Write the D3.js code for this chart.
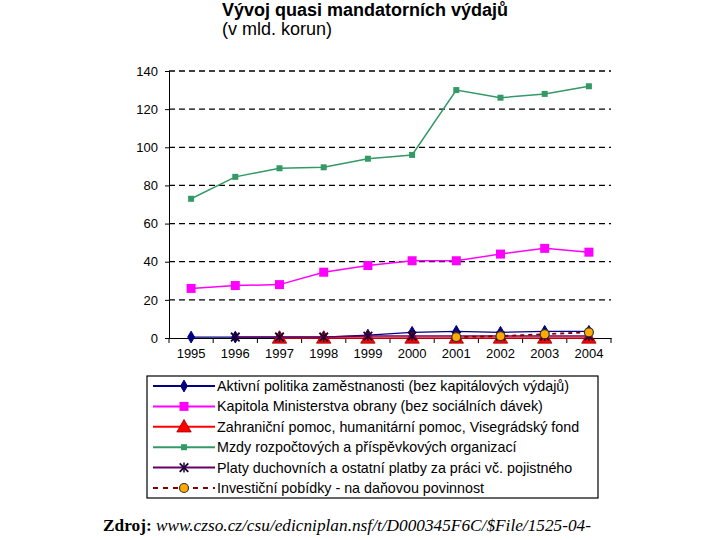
<!DOCTYPE html>
<html>
<head>
<meta charset="utf-8">
<script src="https://cdn.jsdelivr.net/npm/d3@7"></script>
<style>
  body { margin: 0; background: #fff; }
  svg { display: block; }
</style>
</head>
<body>
<script>
// data
var years = ["1995", "1996", "1997", "1998", "1999", "2000", "2001", "2002", "2003", "2004"];
var yTicks = [0, 20, 40, 60, 80, 100, 120, 140];

var aktivni = [0.5, 0.5, 0.5, 0.5, 1.5, 3, 3.5, 3, 3.5, 3.5];
var obrana = [26, 27.5, 28, 34.5, 38, 40.5, 40.5, 44, 47, 45];
var zahranicni = [null, null, 0, 0, 0, 0, 0, 0, 0, 0];
var mzdy = [73, 84.5, 89, 89.5, 94, 96, 130, 126, 128, 132];
var platy = [null, 0.5, 0.5, 0.5, 1, 1, 1, 1, 1, 1];
var pobidky = [null, null, null, null, null, null, 0.5, 1, 2, 3];

var seriesNames = [
  "Aktivní politika zaměstnanosti (bez kapitálových výdajů)",
  "Kapitola Ministerstva obrany (bez sociálních dávek)",
  "Zahraniční pomoc, humanitární pomoc, Visegrádský fond",
  "Mzdy rozpočtových a příspěvkových organizací",
  "Platy duchovních a ostatní platby za práci vč. pojistného",
  "Investiční pobídky - na daňovou povinnost"
];

var series = [
  { name: seriesNames[0], values: aktivni, color: "#000080", marker: "diamond", width: 1.2 },
  { name: seriesNames[1], values: obrana, color: "#ff00ff", marker: "square", width: 1.5 },
  { name: seriesNames[2], values: zahranicni, color: "#ff0000", marker: "triangle", width: 1.5 },
  { name: seriesNames[3], values: mzdy, color: "#339966", marker: "smallsquare", width: 1.5 },
  { name: seriesNames[4], values: platy, color: "#660066", marker: "star", width: 1.5 },
  { name: seriesNames[5], values: pobidky, color: "#800000", marker: "circle", width: 1.8, dash: "4,4" }
];

var font = "Liberation Sans, Arial, sans-serif";

var svg = d3.select("body").append("svg")
  .attr("width", 720)
  .attr("height", 540);

// title
svg.append("text")
  .attr("x", 222).attr("y", 16)
  .attr("font-family", font)
  .attr("font-size", 18).attr("font-weight", "bold")
  .text("Vývoj quasi mandatorních výdajů");
svg.append("text")
  .attr("x", 222).attr("y", 35)
  .attr("font-family", font)
  .attr("font-size", 18)
  .text("(v mld. korun)");

// scales
var plotLeft = 169, plotRight = 611, plotTop = 71, plotBottom = 338;
var x = d3.scaleBand().domain(years).range([plotLeft, plotRight]);
var y = d3.scaleLinear().domain([0, 140]).range([plotBottom, plotTop]);

// grid
svg.append("g").selectAll("line")
  .data(yTicks.filter(function(d) { return d > 0; }))
  .enter().append("line")
  .attr("x1", plotLeft).attr("x2", plotRight)
  .attr("y1", function(d) { return y(d); })
  .attr("y2", function(d) { return y(d); })
  .attr("stroke", "#000").attr("stroke-width", 1.3)
  .attr("stroke-dasharray", "6,4");

// y axis
var yAxis = svg.append("g")
  .attr("transform", "translate(" + plotLeft + ",0)")
  .call(d3.axisLeft(y).tickValues(yTicks).tickSize(4).tickPadding(7));
yAxis.select(".domain").attr("stroke", "#000");
yAxis.selectAll("text")
  .attr("font-family", font)
  .attr("font-size", 13).attr("fill", "#000");

// x axis
var xAxis = svg.append("g")
  .attr("transform", "translate(0," + plotBottom + ")")
  .call(d3.axisBottom(x).tickSize(0).tickPadding(11));
xAxis.select(".domain").attr("stroke", "#000");
xAxis.selectAll("text")
  .attr("font-family", font)
  .attr("font-size", 13).attr("fill", "#000");
// tick marks between categories
svg.append("g").selectAll("line")
  .data(years.concat(["end"]))
  .enter().append("line")
  .attr("x1", function(d, i) { return plotLeft + i * x.step(); })
  .attr("x2", function(d, i) { return plotLeft + i * x.step(); })
  .attr("y1", plotBottom).attr("y2", plotBottom + 5)
  .attr("stroke", "#000");

// markers
function drawMarker(g, type, color, cx, cy) {
  if (type === "diamond") {
    g.append("path").attr("d", d3.symbol(d3.symbolDiamond, 40)())
      .attr("transform", "translate(" + cx + "," + cy + ")")
      .attr("fill", color).attr("stroke", color);
  } else if (type === "square") {
    g.append("rect").attr("x", cx - 4.5).attr("y", cy - 4.5)
      .attr("width", 9).attr("height", 9).attr("fill", color);
  } else if (type === "smallsquare") {
    g.append("rect").attr("x", cx - 3).attr("y", cy - 3)
      .attr("width", 6).attr("height", 6).attr("fill", color);
  } else if (type === "triangle") {
    g.append("path").attr("d", d3.symbol(d3.symbolTriangle, 90)())
      .attr("transform", "translate(" + cx + "," + (cy + 1) + ")")
      .attr("fill", color).attr("stroke", "#990000").attr("stroke-width", 0.8);
  } else if (type === "star") {
    g.append("path").attr("d", d3.symbol(d3.symbolTimes, 50)())
      .attr("transform", "translate(" + cx + "," + cy + ")")
      .attr("fill", "none").attr("stroke", "#1a0033").attr("stroke-width", 1.8);
    g.append("line").attr("x1", cx).attr("x2", cx)
      .attr("y1", cy - 5).attr("y2", cy + 5)
      .attr("stroke", "#1a0033").attr("stroke-width", 1.5);
  } else if (type === "circle") {
    g.append("circle").attr("cx", cx).attr("cy", cy).attr("r", 4.5)
      .attr("fill", "#ffaa00").attr("stroke", "#333").attr("stroke-width", 1.2);
  }
}

var line = d3.line()
  .defined(function(d) { return d.v != null; })
  .x(function(d) { return x(d.year) + x.bandwidth() / 2; })
  .y(function(d) { return y(d.v); });

series.forEach(function(s) {
  var pts = years.map(function(yr, i) { return { year: yr, v: s.values[i] }; });
  var g = svg.append("g");
  g.append("path").datum(pts)
    .attr("d", line)
    .attr("fill", "none")
    .attr("stroke", s.color)
    .attr("stroke-width", s.width)
    .attr("stroke-dasharray", s.dash || null);
  pts.forEach(function(p) {
    if (p.v != null) drawMarker(g, s.marker, s.color, x(p.year) + x.bandwidth() / 2, y(p.v));
  });
});

// legend
var lg = svg.append("g");
lg.append("rect")
  .attr("x", 147).attr("y", 376).attr("width", 451).attr("height", 122)
  .attr("fill", "#fff").attr("stroke", "#000").attr("stroke-width", 1.2);
series.forEach(function(s, i) {
  var ly = 386 + i * 20.4;
  lg.append("line")
    .attr("x1", 153).attr("x2", 215).attr("y1", ly).attr("y2", ly)
    .attr("stroke", s.color).attr("stroke-width", 2)
    .attr("stroke-dasharray", s.dash ? "5,5" : null);
  drawMarker(lg, s.marker, s.color, 184, ly);
  lg.append("text")
    .attr("x", 217).attr("y", ly + 5)
    .attr("font-family", font)
    .attr("font-size", 14.3)
    .text(s.name);
});

// source
var src = svg.append("text")
  .attr("x", 103).attr("y", 531)
  .attr("font-family", "Liberation Serif, Times New Roman, serif")
  .attr("font-size", 17.3);
src.append("tspan").attr("font-weight", "bold").text("Zdroj: ");
src.append("tspan").attr("font-style", "italic").text("www.czso.cz/csu/edicniplan.nsf/t/D000345F6C/$File/1525-04-");
</script>
</body>
</html>
